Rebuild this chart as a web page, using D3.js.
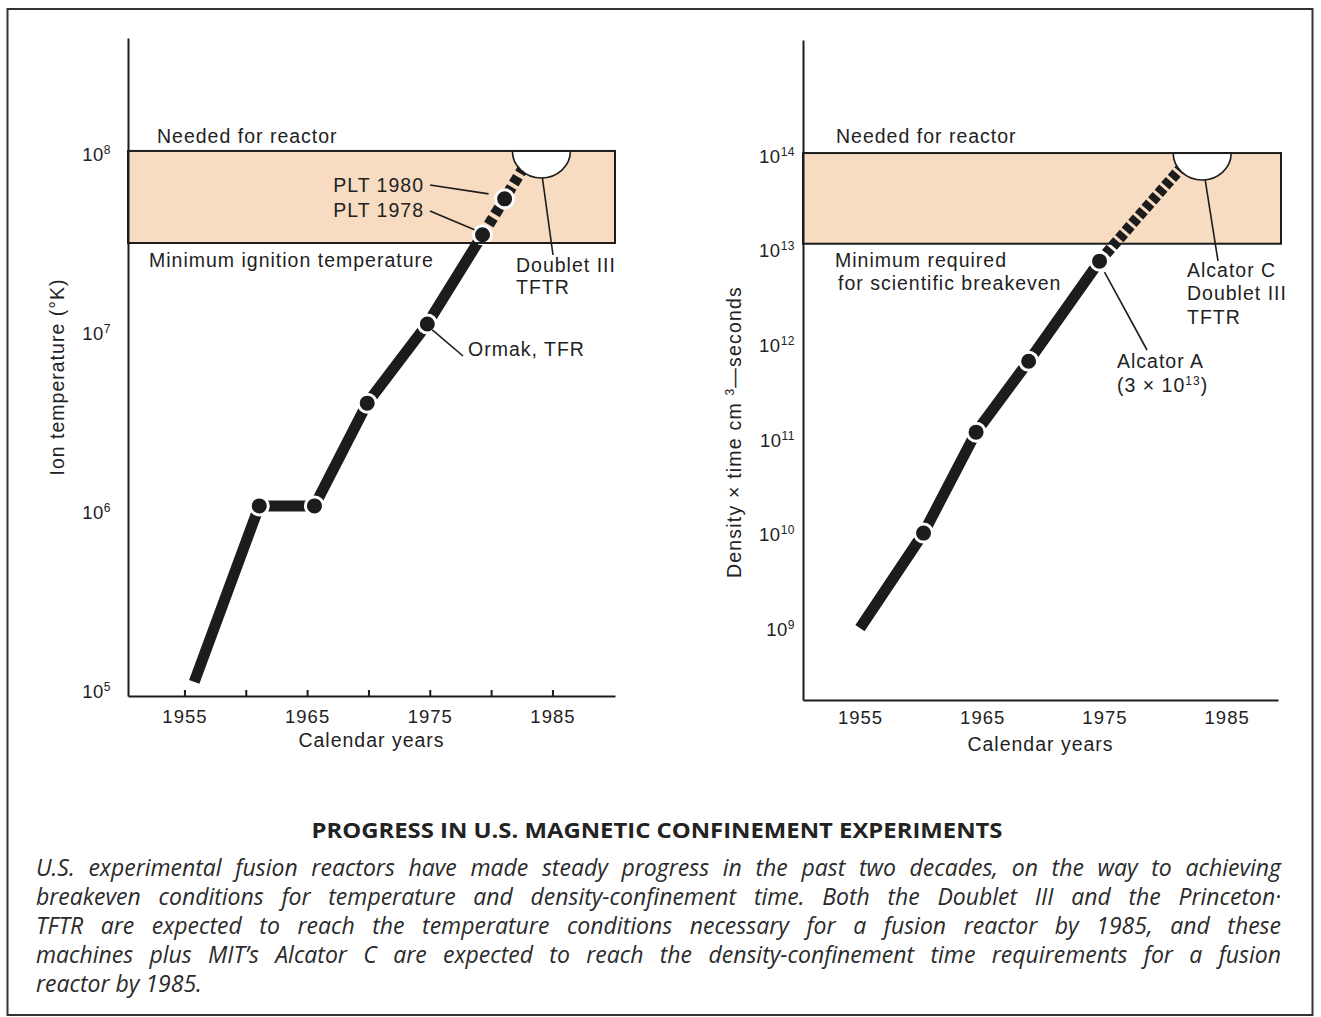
<!DOCTYPE html>
<html>
<head>
<meta charset="utf-8">
<script src="https://cdn.jsdelivr.net/npm/d3@7"></script>
<style>
  body { margin: 0; background: #fff; }
</style>
</head>
<body>
<div class="canvas"></div>
<script>
// ---- data ----
// left panel: ion temperature (K)
const tempYears  = [1955.8, 1961.1, 1965.6, 1969.9, 1974.8, 1979.3, 1981.1, 1982.6];
const tempValues = [1.08e5, 1.04e6, 1.04e6, 3.9e6, 1.08e7, 3.4e7, 5.4e7, 8.0e7];
const tempDashFrom = 5;            // index where the projected (dashed) part starts
const tempBand = [3.06e7, 1e8];    // minimum ignition .. needed for reactor
const tempGoal = [1984.1, 1e8];    // Doublet III / TFTR target
const tempTicks = [1e5, 1e6, 1e7, 1e8];

// right panel: density x confinement time
const densYears  = [1955.0, 1960.2, 1964.5, 1968.8, 1974.6, 1981.4];
const densValues = [9.5e8, 9.6e9, 1.12e11, 6.3e11, 7.2e12, 7.3e13];
const densDashFrom = 4;
const densBand = [1.1e13, 1e14];
const densGoal = [1983.0, 1e14];
const densTicks = [1e9, 1e10, 1e11, 1e12, 1e13, 1e14];

const tickYears  = [1955, 1960, 1965, 1970, 1975, 1980, 1985];
const labelYears = [1955, 1965, 1975, 1985];

const captionTitle = 'PROGRESS IN U.S. MAGNETIC CONFINEMENT EXPERIMENTS';
const captionLines = [
  'U.S. experimental fusion reactors have made steady progress in the past two decades, on the way to achieving',
  'breakeven conditions for temperature and density-confinement time. Both the Doublet III and the Princeton·',
  'TFTR are expected to reach the temperature conditions necessary for a fusion reactor by 1985, and these',
  'machines plus MIT\u2019s Alcator C are expected to reach the density-confinement time requirements for a fusion',
  'reactor by 1985.'
];

// ---- setup ----
const svg = d3.select('.canvas')
  .append('svg')
  .attr('width', 1321)
  .attr('height', 1017);

const ink = '#1c1c1c';
const FS = 19.5, LS = 1.0;

// outer frame
svg.append('rect')
  .attr('x', 7.5).attr('y', 9)
  .attr('width', 1305).attr('height', 1006)
  .attr('fill', 'none').attr('stroke', '#333').attr('stroke-width', 2);

function styleText(sel) {
  sel.attr('font-family', '"Liberation Sans", Arial, sans-serif')
    .attr('font-size', FS)
    .attr('letter-spacing', LS)
    .attr('fill', '#222');
}

function powerLabels(g) {
  g.selectAll('.tick text').each(function(d) {
    const t = d3.select(this).text(null).attr('dy', '0.5em');
    t.append('tspan').text('10');
    t.append('tspan').attr('dy', -7).attr('font-size', 12).text(Math.round(Math.log10(d)));
  });
}

function addText(x, y, str, anchor) {
  return svg.append('text')
    .attr('x', x).attr('y', y)
    .attr('text-anchor', anchor || 'start')
    .call(styleText)
    .text(str);
}

function leader(x1, y1, x2, y2) {
  svg.append('line')
    .attr('x1', x1).attr('y1', y1).attr('x2', x2).attr('y2', y2)
    .attr('stroke', ink).attr('stroke-width', 1.6);
}

// draws one panel: band, series, dots, goal circle, axes
function panel(cfg) {
  const { x, y, years, values, dashFrom, band, goal, ticks, xTicks, xTickSize, xPad, yPad } = cfg;
  const pts = years.map((yr, i) => ({ year: yr, value: values[i] }));
  const [x0, x1] = x.range();

  // band fill
  svg.append('rect')
    .attr('x', x0).attr('y', y(band[1]))
    .attr('width', x1 - x0 + cfg.bandExtra)
    .attr('height', y(band[0]) - y(band[1]))
    .attr('fill', '#f8dcc1');

  const line = d3.line().x(d => x(d.year)).y(d => y(d.value));

  svg.append('path')
    .datum(pts.slice(0, dashFrom + 1))
    .attr('d', line)
    .attr('fill', 'none').attr('stroke', ink)
    .attr('stroke-width', 11);

  svg.append('path')
    .datum(pts.slice(dashFrom))
    .attr('d', line)
    .attr('fill', 'none').attr('stroke', ink)
    .attr('stroke-width', 11)
    .attr('stroke-dasharray', cfg.dash);

  // dots with a thin white ring
  svg.selectAll(null)
    .data(pts.slice(1, pts.length - 1))
    .enter()
    .append('circle')
    .attr('cx', d => x(d.year))
    .attr('cy', d => y(d.value))
    .attr('r', 9)
    .attr('fill', ink)
    .attr('stroke', '#fff')
    .attr('stroke-width', 3);

  // goal half circle
  const gx = x(goal[0]), gy = y(goal[1]);
  svg.append('path')
    .attr('d', `M${gx - 29},${gy} A29,27 0 0,0 ${gx + 29},${gy} Z`)
    .attr('fill', '#fff').attr('stroke', ink).attr('stroke-width', 1.6);

  // band outline on top
  svg.append('rect')
    .attr('x', x0).attr('y', y(band[1]))
    .attr('width', x1 - x0 + cfg.bandExtra)
    .attr('height', y(band[0]) - y(band[1]))
    .attr('fill', 'none').attr('stroke', ink).attr('stroke-width', 2);

  // axes
  const yAxisGroup = svg.append('g')
    .attr('transform', `translate(${x0},0)`)
    .call(d3.axisLeft(y).tickValues(ticks).tickSize(0).tickSizeOuter(0).tickPadding(yPad).tickFormat(''));
  yAxisGroup.selectAll('text').call(styleText).attr('font-size', 18.5).attr('letter-spacing', 0.5);
  yAxisGroup.call(powerLabels);

  const xAxisGroup = svg.append('g')
    .attr('transform', `translate(0,${y.range()[0]})`)
    .call(d3.axisBottom(x).tickValues(xTicks).tickSize(xTickSize).tickSizeOuter(0).tickPadding(xPad)
      .tickFormat(d => labelYears.includes(d) ? d : ''));
  xAxisGroup.selectAll('text').call(styleText).attr('font-size', 18.5);

  [yAxisGroup, xAxisGroup].forEach(g => {
    g.select('.domain').attr('stroke', ink).attr('stroke-width', 2);
    g.selectAll('.tick line').attr('stroke', ink).attr('stroke-width', 2);
  });

  addText((x0 + x1) / 2, y.range()[0] + 51, 'Calendar years', 'middle');
}

// ---- left panel ----
const xT = d3.scaleLinear().domain([1950.4, 1990.1]).range([128, 615]);
const yT = d3.scaleLog().domain([10 ** 4.955, 10 ** 8.631]).range([696, 38]);

panel({
  x: xT, y: yT, years: tempYears, values: tempValues, dashFrom: tempDashFrom,
  band: tempBand, goal: tempGoal, ticks: tempTicks, xTicks: tickYears,
  xTickSize: -6, xPad: 14, yPad: 17, dash: '8 4', bandExtra: 0
});

addText(157, 143, 'Needed for reactor');
addText(149, 267, 'Minimum ignition temperature');
addText(424, 192, 'PLT 1980', 'end');
addText(424, 217, 'PLT 1978', 'end');
addText(516, 272, 'Doublet III');
addText(516, 294, 'TFTR');
addText(468, 356, 'Ormak, TFR');

leader(430, 185, xT(tempYears[6]) - 16, yT(tempValues[6]) - 5);
leader(430, 211, xT(tempYears[5]) - 8, yT(tempValues[5]) - 5);
leader(xT(tempGoal[0]) + 1, yT(tempGoal[1]) + 27, 553, 255);
leader(xT(tempYears[4]) + 5, yT(tempValues[4]) + 6, 463, 356);

svg.append('text')
  .attr('transform', 'translate(64,377) rotate(-90)')
  .attr('text-anchor', 'middle')
  .call(styleText)
  .text('Ion temperature (\u00b0K)');

// ---- right panel ----
const xD = d3.scaleLinear().domain([1950.34, 1989.2]).range([803, 1278]);
const yD = d3.scaleLog().domain([10 ** 8.218, 10 ** 15.195]).range([700, 40]);

panel({
  x: xD, y: yD, years: densYears, values: densValues, dashFrom: densDashFrom,
  band: densBand, goal: densGoal, ticks: densTicks, xTicks: labelYears,
  xTickSize: 0, xPad: 11, yPad: 8, dash: '7 3', bandExtra: 3
});

addText(836, 143, 'Needed for reactor');
addText(835, 267, 'Minimum required');
addText(838, 290, 'for scientific breakeven');
addText(1187, 277, 'Alcator C');
addText(1187, 300, 'Doublet III');
addText(1187, 324, 'TFTR');
addText(1117, 368, 'Alcator A');
const capA = addText(1117, 392, '(3 \u00d7 10');
capA.append('tspan').attr('dy', -7).attr('font-size', 12).text('13');
capA.append('tspan').attr('dy', 7).text(')');

leader(xD(densGoal[0]) + 3, yD(densGoal[1]) + 27, 1218, 261);
leader(xD(densYears[4]) + 5, yD(densValues[4]) + 11, 1147, 350);

const yTitle = svg.append('text')
  .attr('transform', 'translate(741,432) rotate(-90)')
  .attr('text-anchor', 'middle')
  .call(styleText)
  .attr('letter-spacing', 1.2)
  .text('Density \u00d7 time cm ');
yTitle.append('tspan').attr('dy', -7).attr('font-size', 12).text('3');
yTitle.append('tspan').attr('dy', 7).text('\u2014seconds');

// ---- caption ----
svg.append('text')
  .attr('x', 657).attr('y', 838)
  .attr('text-anchor', 'middle')
  .attr('font-family', '"Open Sans", Lato, sans-serif')
  .attr('font-weight', 'bold')
  .attr('font-size', 21)
  .attr('textLength', 691)
  .attr('lengthAdjust', 'spacingAndGlyphs')
  .attr('fill', '#222')
  .text(captionTitle);

const lineBase = [876, 905, 934, 963, 992];
const capLeft = 36, capWidth = 1245;
captionLines.forEach((str, i) => {
  const t = svg.append('text')
    .attr('x', capLeft).attr('y', lineBase[i])
    .attr('font-family', '"Open Sans", Lato, sans-serif')
    .attr('font-style', 'italic')
    .attr('font-size', 23)
    .attr('fill', '#2a2a2a')
    .text(str);
  if (i === captionLines.length - 1) return;
  const natural = t.node().getComputedTextLength();
  const spaces = str.split(' ').length - 1;
  if (natural < capWidth) {
    t.attr('word-spacing', (capWidth - natural) / spaces);
  } else {
    t.attr('textLength', capWidth).attr('lengthAdjust', 'spacingAndGlyphs');
  }
});
</script>
</body>
</html>
